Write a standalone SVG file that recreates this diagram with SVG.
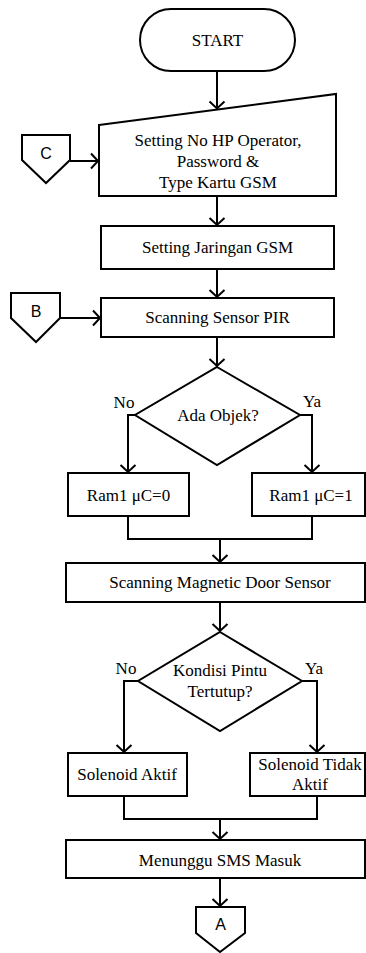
<svg xmlns="http://www.w3.org/2000/svg" width="366" height="953" viewBox="0 0 366 953">
<style>
.s{fill:#fff;stroke:#000;stroke-width:2;stroke-linejoin:miter}
.c{fill:none;stroke:#000;stroke-width:2}
.t{font-family:"Liberation Serif","Times New Roman",serif;font-size:17px;fill:#000;text-anchor:middle}
.a{font-family:"Liberation Sans",Arial,sans-serif;font-size:16px;fill:#000;text-anchor:middle}
</style>
<defs>
<marker id="ah" markerUnits="userSpaceOnUse" markerWidth="20" markerHeight="20" viewBox="-10 -10 20 20" refX="0" refY="0" orient="auto">
<path d="M-7,-7.5 L0,0 L-7,7.5" fill="none" stroke="#000" stroke-width="2"/>
</marker>
</defs>
<rect width="366" height="953" fill="#fff"/>
<g id="connectors">
<path class="c" d="M217,71 V108.5" marker-end="url(#ah)"/>
<path class="c" d="M70,161 H98" marker-end="url(#ah)"/>
<path class="c" d="M217,196 V225" marker-end="url(#ah)"/>
<path class="c" d="M217,269 V297" marker-end="url(#ah)"/>
<path class="c" d="M60,318 H100" marker-end="url(#ah)"/>
<path class="c" d="M217,337 V366" marker-end="url(#ah)"/>
<path class="c" d="M135,415 H128 V472" marker-end="url(#ah)"/>
<path class="c" d="M300,415 H312 V472" marker-end="url(#ah)"/>
<path class="c" d="M128,516 V539 H312 V516"/>
<path class="c" d="M220,539 V562" marker-end="url(#ah)"/>
<path class="c" d="M220,602 V631" marker-end="url(#ah)"/>
<path class="c" d="M138,681 H124 V752" marker-end="url(#ah)"/>
<path class="c" d="M302,681 H317 V752" marker-end="url(#ah)"/>
<path class="c" d="M124,796 V819 H317 V796"/>
<path class="c" d="M220,819 V839" marker-end="url(#ah)"/>
<path class="c" d="M220,878 V906" marker-end="url(#ah)"/>
<text class="t" x="124" y="408">No</text>
<text class="t" x="312" y="407">Ya</text>
<text class="t" x="126" y="674">No</text>
<text class="t" x="314" y="674">Ya</text>
</g>
<g id="start">
<rect class="s" x="140" y="9" width="155" height="62" rx="31" ry="31"/>
<text class="t" x="217.5" y="46">START</text>
</g>
<g id="setting-hp">
<polygon class="s" points="99,125 336,94 336,196 99,196"/>
<text class="t" x="218" y="146">Setting No HP Operator,</text>
<text class="t" x="218" y="167">Password &amp;</text>
<text class="t" x="218" y="188">Type Kartu GSM</text>
</g>
<g id="conn-c">
<polygon class="s" points="22,135 70,135 70,160 46,183 22,160"/>
<text class="a" x="46" y="159">C</text>
</g>
<g id="setting-jaringan">
<rect class="s" x="101" y="226" width="233" height="43"/>
<text class="t" x="217.5" y="253">Setting Jaringan GSM</text>
</g>
<g id="scan-pir">
<rect class="s" x="101" y="298" width="233" height="39"/>
<text class="t" x="217.5" y="323">Scanning Sensor PIR</text>
</g>
<g id="conn-b">
<polygon class="s" points="11,293 60,293 60,318 36,342 11,318"/>
<text class="a" x="36" y="317">B</text>
</g>
<g id="ada-objek">
<polygon class="s" points="217,367 300,415 217,465 135,415"/>
<text class="t" x="218" y="421">Ada Objek?</text>
</g>
<g id="ram0">
<rect class="s" x="68" y="473" width="121" height="43"/>
<text class="t" x="128.5" y="501">Ram1 μC=0</text>
</g>
<g id="ram1">
<rect class="s" x="252" y="473" width="113" height="43"/>
<text class="t" x="311" y="501">Ram1 μC=1</text>
</g>
<g id="scan-door">
<rect class="s" x="66" y="563" width="299" height="39"/>
<text class="t" x="220" y="588">Scanning Magnetic Door Sensor</text>
</g>
<g id="kondisi">
<polygon class="s" points="220,632 302,681 220,731 138,681"/>
<text class="t" x="220" y="676">Kondisi Pintu</text>
<text class="t" x="220" y="697">Tertutup?</text>
</g>
<g id="sol-aktif">
<rect class="s" x="68" y="753" width="119" height="43"/>
<text class="t" x="127" y="780">Solenoid Aktif</text>
</g>
<g id="sol-tidak">
<rect class="s" x="250" y="753" width="115" height="43"/>
<text class="t" x="310" y="770">Solenoid Tidak</text>
<text class="t" x="310" y="790">Aktif</text>
</g>
<g id="menunggu">
<rect class="s" x="66" y="840" width="299" height="38"/>
<text class="t" x="220" y="866">Menunggu SMS Masuk</text>
</g>
<g id="conn-a">
<polygon class="s" points="196,907 245,907 245,933 220,952 196,933"/>
<text class="a" x="220.5" y="930">A</text>
</g>
</svg>
